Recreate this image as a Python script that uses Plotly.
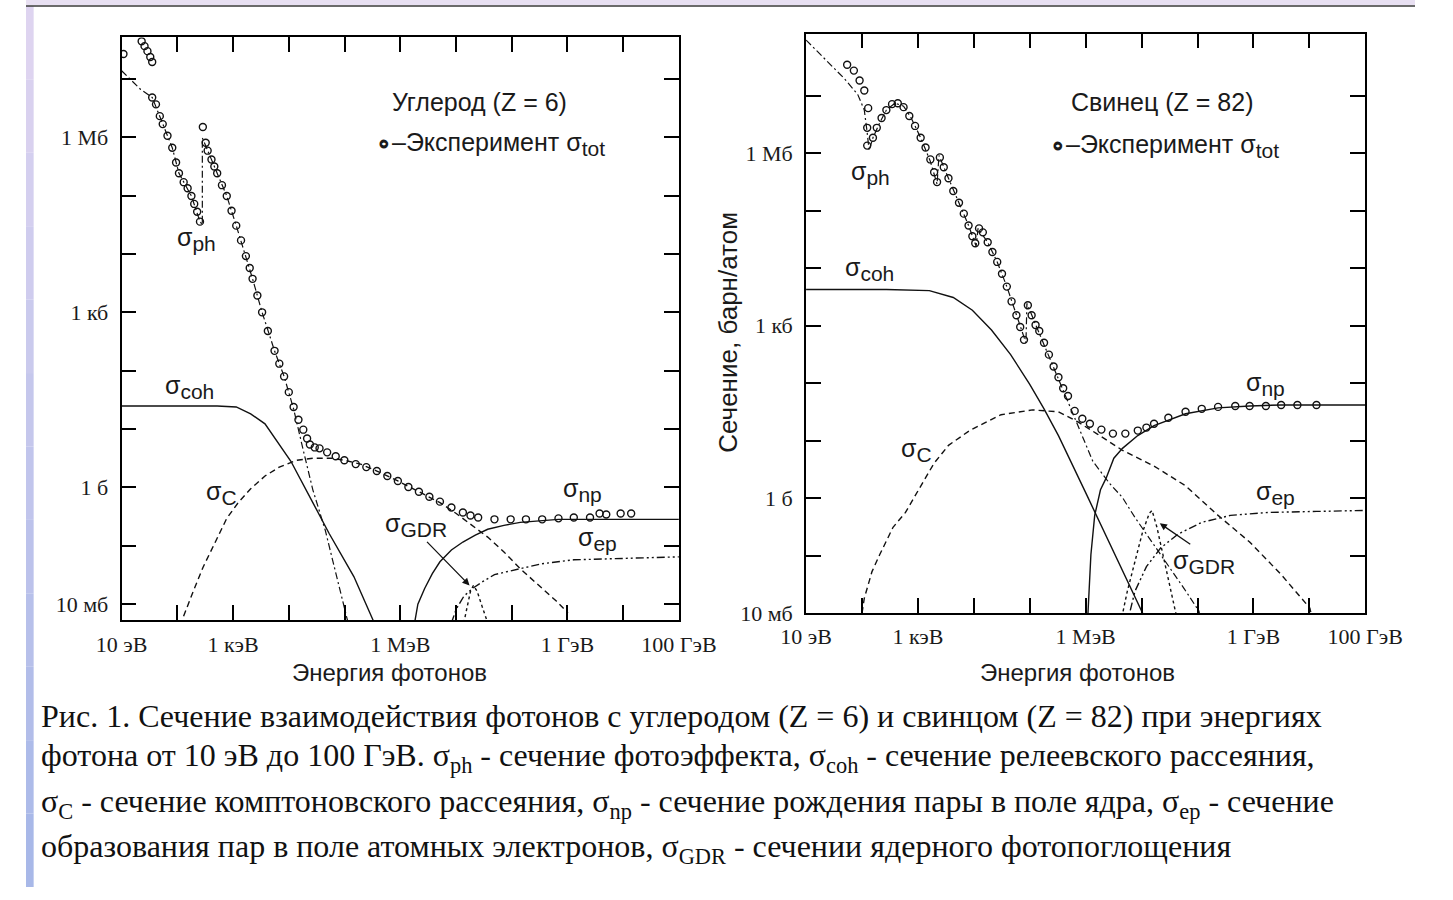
import plotly.graph_objects as go

W, H = 1453, 900

# ---------------- Carbon (Z = 6) : energy in eV, cross-section in barn ----------------
c_exp_E = [10.8, 22.9, 25.8, 29.1, 32.7, 35.4,
           35.4, 41.4, 48.5, 54.7, 66.6, 81.1, 95.0, 107, 130, 153, 179, 201, 227, 255,
           287, 323, 350, 410, 461, 519, 632, 771, 939, 1140, 1390, 1700, 1990, 2240, 2730, 3320, 4210, 5550, 6760, 8240,
           1.00e4, 1.22e4, 1.49e4, 1.82e4, 2.13e4, 2.39e4, 2.92e4, 3.56e4, 4.88e4, 6.95e4,
           9.93e4, 1.59e5, 2.46e5, 3.80e5, 5.86e5, 9.06e5, 1.40e6, 2.16e6, 3.33e6, 5.15e6,
           8.28e6, 1.33e7, 1.82e7, 2.50e7, 4.90e7, 9.57e7, 1.80e8, 3.52e8, 6.90e8, 1.30e9,
           2.54e9, 3.77e9, 4.97e9, 9.0e9, 1.39e10]
c_exp_s = [2.67e7, 4.42e7, 3.64e7, 2.99e7, 2.37e7, 1.95e7,
           4.81e6, 3.66e6, 2.30e6, 1.68e6, 1.06e6, 6.62e5, 3.70e5, 2.41e5, 1.70e5, 1.34e5, 9.84e4, 7.21e4, 5.28e4, 3.58e4,
           1.50e6, 8.04e5, 5.89e5, 4.15e5, 3.16e5, 2.41e5, 1.51e5, 9.84e4, 5.50e4, 3.06e4, 1.71e4, 9.19e3, 5.75e3, 3.75e3, 1.94e3, 1.0e3, 478, 219, 132, 79.8,
           42.9, 23.9, 14.4, 9.77, 6.89, 5.45, 4.85, 4.67, 3.99, 3.42,
           2.92, 2.51, 2.23, 1.91, 1.57, 1.29, 1.02, 0.843, 0.694, 0.571,
           0.452, 0.372, 0.331, 0.306, 0.284, 0.284, 0.284, 0.284, 0.295, 0.306,
           0.306, 0.358, 0.344, 0.358, 0.358]

c_ph_E = [10, 22.0, 35.4, 54.7, 81.1, 107, 179, 255, 281, 281,
          350, 519, 771, 1140, 1700, 2240, 3320, 5550, 8240, 1.22e4,
          1.82e4, 2.70e4, 4.51e4, 6.69e4, 9.93e4, 1.16e5]
c_ph_s = [1.38e7, 6.58e6, 4.81e6, 1.68e6, 6.62e5, 2.41e5, 9.84e4, 3.58e4, 3.18e4, 9.77e5,
          5.89e5, 2.41e5, 9.84e4, 3.06e4, 9.19e3, 3.75e3, 1.0e3, 219, 79.8, 22.1,
          4.32, 0.910, 0.185, 0.039, 8.55e-3, 4.77e-3]

c_coh_E = [10, 107, 519, 1140, 2070, 3740, 1.09e4, 2.70e4, 5.27e4, 1.47e5, 3.24e5, 3.66e5]
c_coh_s = [24.8, 24.8, 24.8, 23.9, 18.2, 12.3, 2.81, 0.550, 0.164, 0.0297, 5.37e-3, 3.5e-3]

c_C_E = [116, 130, 193, 287, 461, 771, 1240, 2070, 3740, 6760,
         1.38e4, 2.70e4, 5.94e4, 9.93e4, 1.94e5, 3.80e5, 9.06e5, 2.16e6, 5.15e6, 1.01e7,
         1.97e7, 3.71e7, 7.26e7, 1.42e8, 3.52e8, 6.38e8, 1.02e9]
c_C_s = [4.25e-3, 6.26e-3, 0.0166, 0.0422, 0.107, 0.295, 0.550, 0.946, 1.57, 2.23,
         2.92, 3.16, 3.16, 2.92, 2.51, 1.91, 1.29, 0.843, 0.550, 0.358,
         0.224, 0.141, 0.0785, 0.0406, 0.0186, 0.0112, 7.05e-3]

c_np_E = [1.71e6, 2.07e6, 2.74e6, 3.76e6, 5.15e6, 8.28e6, 1.33e7, 2.22e7, 3.71e7, 7.26e7, 1.42e8, 3.52e8, 6.90e8, 3.77e9, 1e11]
c_np_s = [3.5e-3, 0.01, 0.0186, 0.0334, 0.0532, 0.0849, 0.116, 0.152, 0.192, 0.224, 0.252, 0.273, 0.284, 0.284, 0.284]

c_ep_E = [8.28e6, 1.01e7, 1.38e7, 1.97e7, 3.05e7, 4.90e7, 1.42e8, 3.52e8, 1.30e9, 4.97e9, 1e11]
c_ep_s = [4.77e-3, 8.24e-3, 0.0136, 0.0186, 0.0245, 0.0321, 0.0406, 0.0493, 0.0575, 0.0598, 0.0647]

c_gdr_E = [1.38e7, 1.62e7, 1.82e7, 2.05e7, 2.40e7, 2.93e7, 3.71e7]
c_gdr_s = [4.77e-3, 0.0104, 0.0166, 0.0209, 0.0166, 9.25e-3, 4.77e-3]

# ---------------- Lead (Z = 82) ----------------
p_exp_E = [54.3, 71.6, 90.6, 110, 129, 124, 124, 157, 184, 224,
           273, 345, 437, 554, 702, 889, 1120, 1370, 1670, 1950,
           2200, 2470, 2900, 3520, 4290, 5430, 6620, 8050, 9420, 1.06e4,
           1.24e4, 1.45e4, 1.77e4, 2.15e4, 2.62e4, 3.19e4, 3.89e4, 4.73e4, 5.77e4, 6.75e4,
           7.89e4, 9.25e4, 1.08e5, 1.27e5, 1.48e5, 1.80e5, 2.20e5, 2.67e5, 3.26e5, 3.96e5,
           4.83e5, 6.36e5, 8.71e5, 1.19e6, 1.91e6, 3.07e6, 5.12e6, 8.55e6, 1.22e7, 1.67e7,
           3.01e7, 6.11e7, 1.19e8, 2.33e8, 4.73e8, 8.55e8, 1.67e9, 3.13e9, 6.11e9, 1.34e10]
p_exp_s = [3.44e7, 2.72e7, 1.83e7, 1.23e7, 6.05e6, 2.75e6, 1.35e6, 1.85e6, 2.75e6, 4.08e6,
           5.60e6, 7.10e6, 7.38e6, 6.30e6, 4.42e6, 2.97e6, 1.85e6, 1.25e6, 7.76e5, 4.65e5,
           3.13e5, 8.41e5, 5.66e5, 3.66e5, 2.19e5, 1.37e5, 8.85e4, 5.51e4, 3.57e4, 2.70e4,
           4.90e4, 4.18e4, 2.81e4, 1.90e4, 1.28e4, 7.96e3, 4.76e3, 2.63e3, 1.51e3, 942,
           564, 2250, 1510, 1020, 805, 501, 312, 194, 126, 81.4,
           59.4, 32.8, 23.9, 19.6, 15.5, 13.2, 13.2, 14.9, 16.8, 19.6,
           24.9, 31.6, 35.6, 38.5, 40.0, 40.0, 40.0, 41.6, 41.6, 41.6]

p_ph_E = [10, 22.0, 48.3, 83.8, 110, 124, 134, 157, 207, 273,
          389, 554, 759, 1120, 1670, 2200, 2380, 3520, 5430, 8050,
          1.10e4, 1.19e4, 1.77e4, 2.62e4, 3.89e4, 5.77e4, 8.55e4, 8.90e4, 1.27e5, 1.80e5,
          2.67e5, 4.65e5, 7.16e5, 1.34e6, 2.62e6, 4.55e6, 7.59e6, 1.27e7, 3.26e7, 5.88e7,
          1.06e8, 1.15e8]
p_ph_s = [9.25e7, 4.20e7, 1.98e7, 1.05e7, 5.60e6, 2.25e6, 1.11e6, 1.85e6, 3.35e6, 5.60e6,
          7.38e6, 6.55e6, 4.08e6, 1.85e6, 7.18e5, 2.89e5, 9.10e5, 3.66e5, 1.37e5, 5.51e4,
          2.40e4, 4.90e4, 2.81e4, 1.28e4, 4.76e3, 1.51e3, 501, 2430, 1020, 463,
          187, 52.7, 19.6, 4.38, 1.84, 1.02, 0.461, 0.226, 0.0592, 0.0258,
          0.0108, 7.3e-3]

p_coh_E = [10, 273, 1600, 4290, 9420, 2.07e4, 4.55e4, 1.0e5, 1.80e5, 3.26e5, 1.06e6, 3.45e6, 1.04e7, 1.22e7]
p_coh_s = [4230, 4230, 4060, 3080, 1850, 837, 312, 95.2, 35.6, 12.2, 1.10, 0.0989, 0.01, 6.7e-3]

p_C_E = [94.2, 110, 151, 207, 359, 600, 1080, 1950, 3520, 8380,
         3.07e4, 1.12e5, 3.26e5, 7.16e5, 1.57e6, 4.55e6, 1.67e7, 6.11e7, 2.33e8, 8.55e8,
         3.13e9, 1.02e10, 1.15e10]
p_C_s = [6.7e-3, 0.0181, 0.0525, 0.103, 0.310, 0.562, 1.51, 4.04, 8.24, 14.9,
         28.1, 34.1, 31.6, 21.3, 13.2, 6.76, 3.60, 1.63, 0.499, 0.172,
         0.0467, 0.0122, 7.3e-3]

p_np_E = [1.06e6, 1.15e6, 1.24e6, 1.45e6, 1.84e6, 2.33e6, 3.19e6, 4.55e6, 8.55e6, 1.67e7, 6.11e7, 2.33e8, 8.55e8, 3.13e9, 1e11]
p_np_s = [4.9e-3, 0.0238, 0.103, 0.499, 1.39, 2.24, 4.93, 7.31, 12.2, 18.2, 29.2, 37.0, 40.0, 41.6, 41.6]

p_ep_E = [5.12e6, 7.59e6, 1.22e7, 2.20e7, 4.47e7, 1.19e8, 3.89e8, 1.88e9, 1.34e10, 1e11]
p_ep_s = [4.9e-3, 0.0238, 0.064, 0.136, 0.235, 0.378, 0.499, 0.562, 0.585, 0.608]

p_gdr_E = [4.21e6, 5.55e6, 7.59e6, 1.04e7, 1.37e7, 1.54e7, 1.88e7, 2.47e7, 3.26e7, 4.47e7]
p_gdr_s = [6.7e-3, 0.0238, 0.078, 0.255, 0.540, 0.608, 0.310, 0.0951, 0.029, 6.7e-3]

# ---------------- ticks ----------------
x_tickvals = [1e1, 1e3, 1e6, 1e9, 1e11]
x_ticktext = ["10 эВ", "1 кэВ", "1 МэВ", "1 ГэВ", "100 ГэВ"]
x_minorvals = [1e1, 1e2, 1e3, 1e4, 1e5, 1e6, 1e7, 1e8, 1e9, 1e10, 1e11]
y_tickvals = [1e-2, 1e0, 1e3, 1e6]
y_ticktext = ["10 мб", "1 б", "1 кб", "1 Мб"]
y_minorvals = [1e-2, 1e-1, 1e0, 1e1, 1e2, 1e3, 1e4, 1e5, 1e6, 1e7]

caption_lines = [
    "Рис. 1. Сечение взаимодействия фотонов с углеродом (Z = 6) и свинцом (Z = 82) при энергиях",
    "фотона от 10 эВ до 100 ГэВ. σ<sub>ph</sub> - сечение фотоэффекта, σ<sub>coh</sub> - сечение релеевского рассеяния,",
    "σ<sub>C</sub> - сечение комптоновского рассеяния, σ<sub>np</sub> - сечение рождения пары в поле ядра, σ<sub>ep</sub> - сечение",
    "образования пар в поле атомных электронов, σ<sub>GDR</sub> - сечении ядерного фотопоглощения",
]

# ---------------- figure ----------------
fig = go.Figure()
LW = 1.4
K = "#111111"


def line(E, s, dash, ax, width=LW):
    xa, ya = ax
    fig.add_trace(go.Scatter(x=E, y=s, mode="lines", xaxis=xa, yaxis=ya,
                             line=dict(color=K, width=width, dash=dash),
                             hoverinfo="skip", showlegend=False))


def pts(E, s, ax):
    xa, ya = ax
    fig.add_trace(go.Scatter(x=E, y=s, mode="markers", xaxis=xa, yaxis=ya,
                             marker=dict(symbol="circle-open", size=7, color=K,
                                         line=dict(width=1.4, color=K)),
                             hoverinfo="skip", showlegend=False))


DASHDOT = "7px,3px,2px,3px"
DASHDOTDOT = "8px,3px,2px,3px,2px,3px"
DASH = "6px,4px"

for ax, d in ((("x", "y"), dict(ph=(c_ph_E, c_ph_s), coh=(c_coh_E, c_coh_s), C=(c_C_E, c_C_s),
                                np_=(c_np_E, c_np_s), ep=(c_ep_E, c_ep_s), gdr=(c_gdr_E, c_gdr_s),
                                exp=(c_exp_E, c_exp_s))),
              (("x2", "y2"), dict(ph=(p_ph_E, p_ph_s), coh=(p_coh_E, p_coh_s), C=(p_C_E, p_C_s),
                                  np_=(p_np_E, p_np_s), ep=(p_ep_E, p_ep_s), gdr=(p_gdr_E, p_gdr_s),
                                  exp=(p_exp_E, p_exp_s)))):
    line(*d["coh"], "solid", ax)
    line(*d["C"], DASH, ax)
    line(*d["np_"], "solid", ax)
    line(*d["ep"], DASHDOTDOT, ax)
    line(*d["gdr"], "dot", ax)
    line(*d["ph"], DASHDOT, ax, width=1.2)
    pts(*d["exp"], ax)

minor_common = dict(ticks="inside", ticklen=15, tickwidth=1.5, tickcolor="black", showgrid=False)
axis_common = dict(type="log", showline=True, linecolor="black", linewidth=1.8, mirror="ticks",
                   ticks="inside", ticklen=15, tickwidth=1.5, tickcolor="black",
                   showgrid=False, zeroline=False,
                   tickfont=dict(family="Liberation Serif", size=22, color="#1a1a1a"))

fig.update_layout(
    width=W, height=H, margin=dict(l=0, r=0, t=0, b=0),
    paper_bgcolor="white", plot_bgcolor="white", showlegend=False,
    xaxis=dict(axis_common, domain=[100 / W, 683 / W], range=[1, 11], anchor="y",
               tickvals=x_tickvals, ticktext=x_ticktext, ticklabelstandoff=4,
               minor=dict(minor_common, tickmode="array", tickvals=x_minorvals)),
    yaxis=dict(axis_common, domain=[1 - 629 / H, 1 - 38 / H], range=[-2.27, 7.71], anchor="x",
               tickvals=y_tickvals, ticktext=y_ticktext, ticklabelstandoff=7,
               minor=dict(minor_common, tickmode="array", tickvals=y_minorvals)),
    xaxis2=dict(axis_common, domain=[816 / W, 1401 / W], range=[1, 11], anchor="y2",
                tickvals=x_tickvals, ticktext=x_ticktext, ticklabelstandoff=3,
                minor=dict(minor_common, tickmode="array", tickvals=x_minorvals)),
    yaxis2=dict(axis_common, domain=[1 - 622 / H, 1 - 34 / H], range=[-2.0, 8.08], anchor="x2",
                tickvals=y_tickvals, ticktext=y_ticktext, ticklabelstandoff=7,
                minor=dict(minor_common, tickmode="array", tickvals=y_minorvals)),
)

ann = []
SANS = "Liberation Sans"


def txt(px, py, text, size=25, family=SANS, xanchor="center", angle=0, color="#1a1a1a"):
    ann.append(dict(x=px / W, y=1 - py / H, xref="paper", yref="paper", text=text, showarrow=False,
                    xanchor=xanchor, yanchor="middle", textangle=angle,
                    font=dict(family=family, size=size, color=color)))


def sig(sub):
    return "σ<sub><span style='font-size:21px'>%s</span></sub>" % sub


# panel texts - carbon
txt(474, 104, "Углерод (Z = 6)")
txt(486, 146, "<b>∘</b>–Эксперимент " + sig("tot"))
txt(178, 242, sig("ph"))
txt(171, 393, sig("coh"))
txt(205, 500, sig("C"))
txt(408, 533, sig("GDR"))
txt(582, 497, sig("np"))
txt(598, 547, sig("ep"))
# panel texts - lead
txt(1189, 103, "Свинец (Z = 82)")
txt(1191, 148, "<b>∘</b>–Эксперимент " + sig("tot"))
txt(883, 176, sig("ph"))
txt(882, 273, sig("coh"))
txt(932, 457, sig("C"))
txt(1297, 390, sig("np"))
txt(1307, 500, sig("ep"))
txt(1232, 570, sig("GDR"))
# axis titles
txt(380, 682, "Энергия фотонов", size=24)
txt(1100, 682, "Энергия фотонов", size=24)
txt(735, 337, "Сечение, барн/атом", size=26, angle=-90)
# caption
for line_text, py in zip(caption_lines, [727, 769, 815, 861]):
    txt(14, py, line_text, size=32, family="Liberation Serif", xanchor="left", color="#111")

# GDR arrows
for head, tail in (((464, 594), (420, 549)), ((1186, 531), (1218, 553))):
    ann.append(dict(x=head[0] / W, y=1 - head[1] / H, xref="paper", yref="paper", text="",
                    showarrow=True, arrowhead=2, arrowsize=1.1, arrowwidth=1.3, arrowcolor=K,
                    ax=tail[0] - head[0], ay=tail[1] - head[1]))

fig.update_layout(annotations=ann)

# decorative frame of the slide
shapes = [dict(type="rect", xref="paper", yref="paper", x0=0, x1=1, y0=1 - 5 / H, y1=1,
               fillcolor="#e8e0f2", line=dict(width=0), layer="below"),
          dict(type="line", xref="paper", yref="paper", x0=0, x1=1, y0=1 - 6 / H, y1=1 - 6 / H,
               line=dict(color="#3a3a3a", width=1.5))]
top_rgb, bot_rgb = (222, 212, 240), (168, 184, 232)
n = 12
for i in range(n):
    f = i / (n - 1)
    col = "rgb(%d,%d,%d)" % tuple(round(a + (b - a) * f) for a, b in zip(top_rgb, bot_rgb))
    shapes.append(dict(type="rect", xref="paper", yref="paper", x0=0, x1=8 / W,
                       y0=1 - (6 + (H - 6) * (i + 1) / n) / H, y1=1 - (6 + (H - 6) * i / n) / H,
                       fillcolor=col, line=dict(width=0), layer="below"))
fig.update_layout(shapes=shapes)

fig.write_html("out.html", config={"displayModeBar": False},
               post_script="document.body.style.margin='0';document.body.style.overflow='hidden';")
